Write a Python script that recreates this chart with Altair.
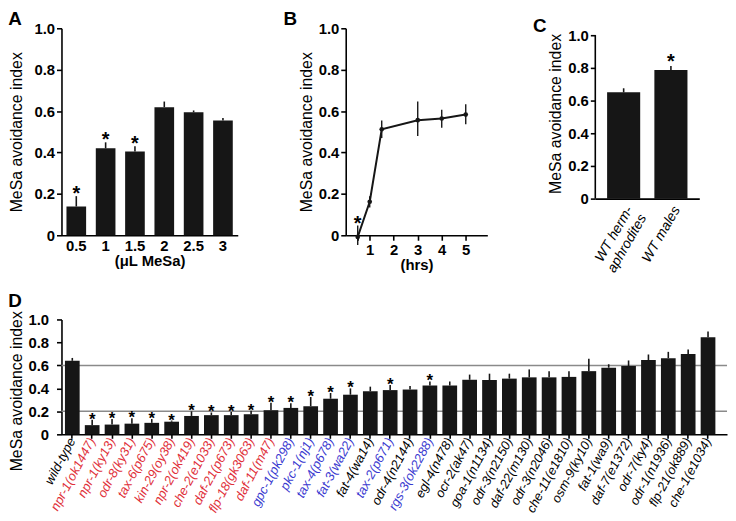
import altair as alt
import pandas as pd

FONT = "Liberation Sans"
RED = "#e0303a"
BLUE = "#3a3ad0"
BAR = "#161616"

# ---------------- Panel A: dose response ----------------
a_dose = ["0.5", "1", "1.5", "2", "2.5", "3"]
a_mean = [0.139, 0.42, 0.405, 0.619, 0.594, 0.555]
a_hi = [0.189, 0.449, 0.43, 0.646, 0.603, 0.567]
a_sig = [True, True, True, False, False, False]

# ---------------- Panel B: time course ----------------
b_hrs = [0.5, 1, 1.5, 3, 4, 5]
b_mean = [-0.008, 0.162, 0.512, 0.556, 0.564, 0.583]
b_lo = [-0.047, 0.134, 0.47, 0.48, 0.52, 0.536]
b_hi = [0.047, 0.189, 0.555, 0.646, 0.607, 0.633]
b_sig = [True, False, False, False, False, False]
b_ticks = [0.5, 1, 2, 3, 4, 5]

# ---------------- Panel C: sexes ----------------
c_group = ["WT herm-\naphrodites", "WT males"]
c_mean = [0.65, 0.787]
c_hi = [0.675, 0.811]
c_sig = [False, True]
c_axis_span = [0, 1.0]

# ---------------- Panel D: mutants ----------------
d_strain = [
    "wild-type", "npr-1(ok1447)", "npr-1(ky13)", "odr-8(ky31)", "tax-6(p675)",
    "kin-29(oy38)", "npr-2(ok419)", "che-2(e1033)", "daf-21(p673)", "flp-18(gk3063)",
    "daf-11(m47)", "gpc-1(pk298)", "pkc-1(nj1)", "tax-4(p678)", "fat-3(wa22)",
    "fat-4(wa14)", "tax-2(p671)", "odr-4(n2144)", "rgs-3(ok2288)", "egl-4(n478)",
    "ocr-2(ak47)", "goa-1(n1134)", "odr-3(n2150)", "daf-22(m130)", "odr-3(n2046)",
    "che-11(e1810)", "osm-9(ky10)", "fat-1(wa9)", "daf-7(e1372)", "odr-7(ky4)",
    "odr-1(n1936)", "flp-21(ok889)", "che-1(e1034)",
]
d_mean = [
    0.64, 0.08, 0.085, 0.093, 0.10,
    0.11, 0.16, 0.167, 0.167, 0.175,
    0.21, 0.23, 0.245, 0.31, 0.345,
    0.375, 0.385, 0.39, 0.425, 0.425,
    0.475, 0.473, 0.485, 0.496, 0.496,
    0.50, 0.55, 0.58, 0.594, 0.646,
    0.663, 0.70, 0.845,
]
d_hi = [
    0.665, 0.127, 0.133, 0.14, 0.133,
    0.12, 0.20, 0.19, 0.195, 0.205,
    0.275, 0.27, 0.325, 0.36, 0.40,
    0.415, 0.43, 0.42, 0.46, 0.46,
    0.52, 0.528, 0.528, 0.565, 0.55,
    0.55, 0.657, 0.61, 0.643, 0.695,
    0.718, 0.738, 0.896,
]
d_sig_idx = [1, 2, 3, 4, 5, 6, 7, 8, 9, 10, 11, 12, 13, 14, 16, 18]
d_red = d_strain[1:11]
d_blue = ["gpc-1(pk298)", "pkc-1(nj1)", "tax-4(p678)", "fat-3(wa22)", "tax-2(p671)", "rgs-3(ok2288)"]
d_refs = [0.2, 0.6]

y_vals = [0, 0.2, 0.4, 0.6, 0.8, 1.0]
y_lab = "datum.value == 0 ? '0' : format(datum.value, '.1f')"


def y_axis(title_pad, label_pad=2, domain=True, title_y=None):
    kw = dict(values=y_vals, labelExpr=y_lab, title="MeSa avoidance index",
              labelFontSize=15, labelFontWeight="bold", titleFontSize=16,
              titleFontWeight="normal", titlePadding=title_pad,
              labelPadding=label_pad, tickSize=5, labelOverlap=False,
              labelFlush=False, domain=domain)
    if title_y is not None:
        kw["titleY"] = title_y
    return alt.Axis(**kw)


def panel_title(letter, dx=0, offset=0):
    return alt.TitleParams(text=letter, anchor="start", fontSize=19, fontWeight="bold",
                           font=FONT, dx=dx, offset=offset, color="black")


def stars(flags):
    return ["*" if s else "" for s in flags]


# ----- A -----
dfA = pd.DataFrame({"dose": a_dose, "mean": a_mean, "hi": a_hi, "star": stars(a_sig)})
xA = alt.X("dose:N", sort=a_dose,
           scale=alt.Scale(paddingInner=0.33, paddingOuter=0.17),
           axis=alt.Axis(title="(μL MeSa)", labelAngle=0, ticks=False, labelFontSize=15,
                         labelFontWeight="bold", titleFontSize=15, titleFontWeight="bold",
                         labelPadding=3, titlePadding=1))
scA = alt.Scale(domain=[0, 1], nice=False)
axA = y_axis(10)
baseA = alt.Chart(dfA)
A = alt.layer(
    baseA.mark_bar(color=BAR).encode(x=xA, y=alt.Y("mean:Q", scale=scA, axis=axA)),
    baseA.mark_rule(color=BAR, strokeWidth=1.6).encode(
        x=xA, y=alt.Y("mean:Q", scale=scA, axis=axA), y2="hi:Q"),
    baseA.mark_text(fontSize=20, fontWeight="bold", baseline="alphabetic", dy=4, font=FONT)
    .encode(x=xA, y=alt.Y("hi:Q", scale=scA, axis=axA), text="star:N"),
).properties(width=178, height=209, title=panel_title("A", offset=-8))

# ----- B -----
dfB = pd.DataFrame({"hrs": b_hrs, "mean": b_mean, "lo": b_lo, "hi": b_hi, "star": stars(b_sig)})
xB = alt.X("hrs:Q", scale=alt.Scale(domain=[0, 5.9], nice=False),
           axis=alt.Axis(values=b_ticks, labelExpr="datum.value == 0.5 ? '' : datum.label",
                         title="(hrs)", labelFontSize=15, labelFontWeight="bold",
                         titleFontSize=15, titleFontWeight="bold", tickSize=5,
                         labelPadding=2, titlePadding=1, grid=False))
scB = alt.Scale(domain=[0, 1], nice=False)
axB = y_axis(4)
baseB = alt.Chart(dfB)
B = alt.layer(
    baseB.mark_rule(color=BAR, strokeWidth=1.4).encode(
        x=xB, y=alt.Y("lo:Q", scale=scB, axis=axB), y2="hi:Q"),
    baseB.mark_line(color=BAR, strokeWidth=2).encode(
        x=xB, y=alt.Y("mean:Q", scale=scB, axis=axB)),
    baseB.mark_point(filled=True, color=BAR, size=22, opacity=1).encode(
        x=xB, y=alt.Y("mean:Q", scale=scB, axis=axB)),
    baseB.mark_text(fontSize=20, fontWeight="bold", baseline="alphabetic", dy=5, font=FONT)
    .encode(x=xB, y=alt.Y("hi:Q", scale=scB, axis=axB), text="star:N"),
).properties(width=143, height=209, title=panel_title("B", dx=-15, offset=-8))

# ----- C -----
dfC = pd.DataFrame({"group": c_group, "mean": c_mean, "hi": c_hi, "star": stars(c_sig)})
dfCax = pd.DataFrame({"lo": [c_axis_span[0]], "hi": [c_axis_span[1]]})
xC = alt.X("group:N", sort=c_group,
           scale=alt.Scale(paddingInner=0.3, paddingOuter=0.25),
           axis=alt.Axis(title=None, labelAngle=-60, ticks=False, labelFontSize=14,
                         labelFontStyle="italic", labelPadding=5, labelAlign="right",
                         labelBaseline="top", labelLineHeight=16,
                         labelExpr="split(datum.label, '\\n')"))
scC = alt.Scale(domain=[0, 1.042], nice=False)
axC = y_axis(4, domain=False)
baseC = alt.Chart(dfC)
C = alt.layer(
    baseC.mark_bar(color=BAR).encode(x=xC, y=alt.Y("mean:Q", scale=scC, axis=axC)),
    baseC.mark_rule(color=BAR, strokeWidth=1.6).encode(
        x=xC, y=alt.Y("mean:Q", scale=scC, axis=axC), y2="hi:Q"),
    baseC.mark_text(fontSize=20, fontWeight="bold", baseline="alphabetic", dy=2, font=FONT)
    .encode(x=xC, y=alt.Y("hi:Q", scale=scC, axis=axC), text="star:N"),
    alt.Chart(dfCax).mark_rule(color="black", strokeWidth=1.6)
    .encode(x=alt.value(0), y=alt.Y("lo:Q", scale=scC, axis=axC), y2="hi:Q"),
).properties(width=105, height=172, title=panel_title("C", dx=-15, offset=-8))

# ----- D -----
dfD = pd.DataFrame({"strain": d_strain, "mean": d_mean, "hi": d_hi,
                    "star": ["*" if i in d_sig_idx else "" for i in range(len(d_strain))]})
dfRef = pd.DataFrame({"ref": d_refs})


def q(lst):
    return "[" + ",".join("'" + s + "'" for s in lst) + "]"


label_color = {
    "condition": [
        {"test": "indexof(" + q(d_red) + ", datum.value) >= 0", "value": RED},
        {"test": "indexof(" + q(d_blue) + ", datum.value) >= 0", "value": BLUE},
    ],
    "value": "black",
}
xD = alt.X("strain:N", sort=d_strain,
           scale=alt.Scale(paddingInner=0.26, paddingOuter=0.38, align=0.23),
           axis=alt.Axis(title=None, labelAngle=-62, labelFontSize=13, labelFontStyle="italic",
                         labelColor=label_color, tickSize=4, labelPadding=0))
scD = alt.Scale(domain=[0, 1], nice=False)
axD = y_axis(4, 8, title_y=72)
baseD = alt.Chart(dfD)
D = alt.layer(
    alt.Chart(dfRef).mark_rule(color="#8a8a8a", strokeWidth=1.5).encode(
        y=alt.Y("ref:Q", scale=scD, axis=axD)),
    baseD.mark_bar(color=BAR).encode(x=xD, y=alt.Y("mean:Q", scale=scD, axis=axD)),
    baseD.mark_rule(color=BAR, strokeWidth=1.6).encode(
        x=xD, y=alt.Y("mean:Q", scale=scD, axis=axD), y2="hi:Q"),
    baseD.mark_text(fontSize=17, fontWeight="bold", baseline="alphabetic", dy=5, font=FONT)
    .encode(x=xD, y=alt.Y("hi:Q", scale=scD, axis=axD), text="star:N"),
).properties(width=672, height=116, title=panel_title("D", offset=0))

top = alt.hconcat(A, B, C, spacing=46)
chart = alt.vconcat(top, D, spacing=17).properties(padding=0).configure(
    font=FONT,
).configure_view(stroke=None).configure_axis(
    domainColor="black", domainWidth=1.6, tickColor="black", tickWidth=1.6,
    labelColor="black", titleColor="black", labelFont=FONT, titleFont=FONT, grid=False,
)

chart.save("out.html", embed_options={"renderer": "svg", "actions": False})
